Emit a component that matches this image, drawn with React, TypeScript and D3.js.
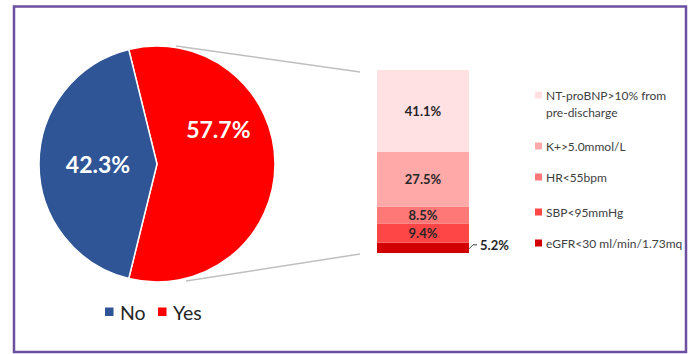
import React from "react";
import * as d3 from "d3";

const pieCategories = ["Yes", "No"];
const pieValues = [57.7, 42.3];
const pieColors = ["#ff0000", "#2f5597"];

const barCategories = [
  "eGFR<30 ml/min/1.73mq",
  "SBP<95mmHg",
  "HR<55bpm",
  "K+>5.0mmol/L",
  "NT-proBNP>10% from pre-discharge",
];
const barValues = [5.2, 9.4, 8.5, 27.5, 41.1];
const barColors = ["#d20000", "#ff4646", "#ff7878", "#ffa9a9", "#ffe1e3"];
const legendLines = [
  ["eGFR<30 ml/min/1.73mq"],
  ["SBP<95mmHg"],
  ["HR<55bpm"],
  ["K+>5.0mmol/L"],
  ["NT-proBNP>10% from", "pre-discharge"],
];

const W = 692;
const H = 354;
const FONT = "Lato, 'Open Sans', sans-serif";

export default function App() {
  const cx = 157;
  const cy = 164;
  const r = 118;
  const yesSweep = (pieValues[0] / d3.sum(pieValues)) * 2 * Math.PI;
  const start = Math.PI / 2 - yesSweep / 2;
  const pie = d3
    .pie<number>()
    .sort(null)
    .startAngle(start)
    .endAngle(start + 2 * Math.PI)
    .value((d) => d);
  const arcs = pie(pieValues);
  const arc = d3.arc<d3.PieArcDatum<number>>().innerRadius(0).outerRadius(r);

  // bar
  const barX = 377;
  const barW = 92;
  const barTop = 70;
  const barBottom = 253;
  const total = d3.sum(barValues);
  const y = d3.scaleLinear().domain([0, total]).range([barBottom, barTop]);
  const cum: number[] = [];
  barValues.reduce((acc, v) => {
    cum.push(acc);
    return acc + v;
  }, 0);

  const legendY = [243, 212, 177, 146, 95];

  const labelPos = [
    { ang: (60 * Math.PI) / 180, rr: 0.6 },
    { ang: (arcs[1].startAngle + arcs[1].endAngle) / 2, rr: 0.5 },
  ];

  return (
    <svg width={W} height={H} style={{ position: "absolute", left: 0, top: 0 }}>
      <rect x={0} y={0} width={W} height={H} fill="#fff" />
      <rect x={14} y={6.5} width={672} height={345.5} fill="#fff" stroke="#6b4fa0" strokeWidth={2.5} />
      {/* connectors */}
      <line x1={176} y1={46} x2={360} y2={72} stroke="#bfbfbf" strokeWidth={1.5} />
      <line x1={186} y1={281} x2={360} y2={254} stroke="#bfbfbf" strokeWidth={1.5} />
      <g transform={`translate(${cx},${cy})`}>
        {arcs.map((a, i) => (
          <path key={pieCategories[i]} d={arc(a) || ""} fill={pieColors[i]} stroke="#fff" strokeWidth={1.5} />
        ))}
        {arcs.map((a, i) => {
          const p = labelPos[i];
          const x = Math.sin(p.ang) * r * p.rr;
          const yy = -Math.cos(p.ang) * r * p.rr;
          return (
            <text
              key={"l" + i}
              x={x}
              y={yy}
              textAnchor="middle"
              dominantBaseline="central"
              fill="#fff"
              fontFamily={FONT}
              fontWeight="bold"
              fontSize={23}
            >
              {pieValues[i].toFixed(1)}%
            </text>
          );
        })}
      </g>
      {/* stacked bar */}
      {barValues.map((v, i) => {
        const y0 = y(cum[i]);
        const y1 = y(cum[i] + v);
        return (
          <rect key={barCategories[i]} x={barX} y={y1} width={barW} height={y0 - y1} fill={barColors[i]} />
        );
      })}
      {barValues.map((v, i) => {
        const ym = (y(cum[i]) + y(cum[i] + v)) / 2;
        if (i === 0) {
          return (
            <g key={"bl" + i}>
              <path d={`M${barX + barW},${ym + 1} L${barX + barW + 4},${ym - 3} L${barX + barW + 8},${ym - 3}`} fill="none" stroke="#404040" strokeWidth={1} />
              <text x={barX + barW + 11} y={ym - 3} dominantBaseline="central" fontFamily={FONT} fontWeight="bold" fontSize={13} fill="#262626">
                {v.toFixed(1)}%
              </text>
            </g>
          );
        }
        return (
          <text key={"bl" + i} x={barX + barW / 2} y={ym} textAnchor="middle" dominantBaseline="central" fontFamily={FONT} fontWeight="bold" fontSize={13} fill="#262626">
            {v.toFixed(1)}%
          </text>
        );
      })}
      {/* right legend */}
      {barCategories.map((c, i) => (
        <g key={"lg" + i}>
          <rect x={535} y={legendY[i] - 3.5} width={7} height={7} fill={barColors[i]} />
          {legendLines[i].map((ln, j) => (
            <text key={j} x={546} y={legendY[i] + j * 17} dominantBaseline="central" fontFamily={FONT} fontSize={12} fill="#404040">
              {ln}
            </text>
          ))}
        </g>
      ))}
      {/* bottom legend */}
      {[1, 0].map((idx, k) => {
        const x0 = k === 0 ? 105 : 158;
        return (
          <g key={"pl" + idx}>
            <rect x={x0} y={307.5} width={8.5} height={8.5} fill={pieColors[idx]} />
            <text x={x0 + 15} y={312} dominantBaseline="central" fontFamily={FONT} fontSize={19.5} fill="#262626">
              {pieCategories[idx]}
            </text>
          </g>
        );
      })}
    </svg>
  );
}
